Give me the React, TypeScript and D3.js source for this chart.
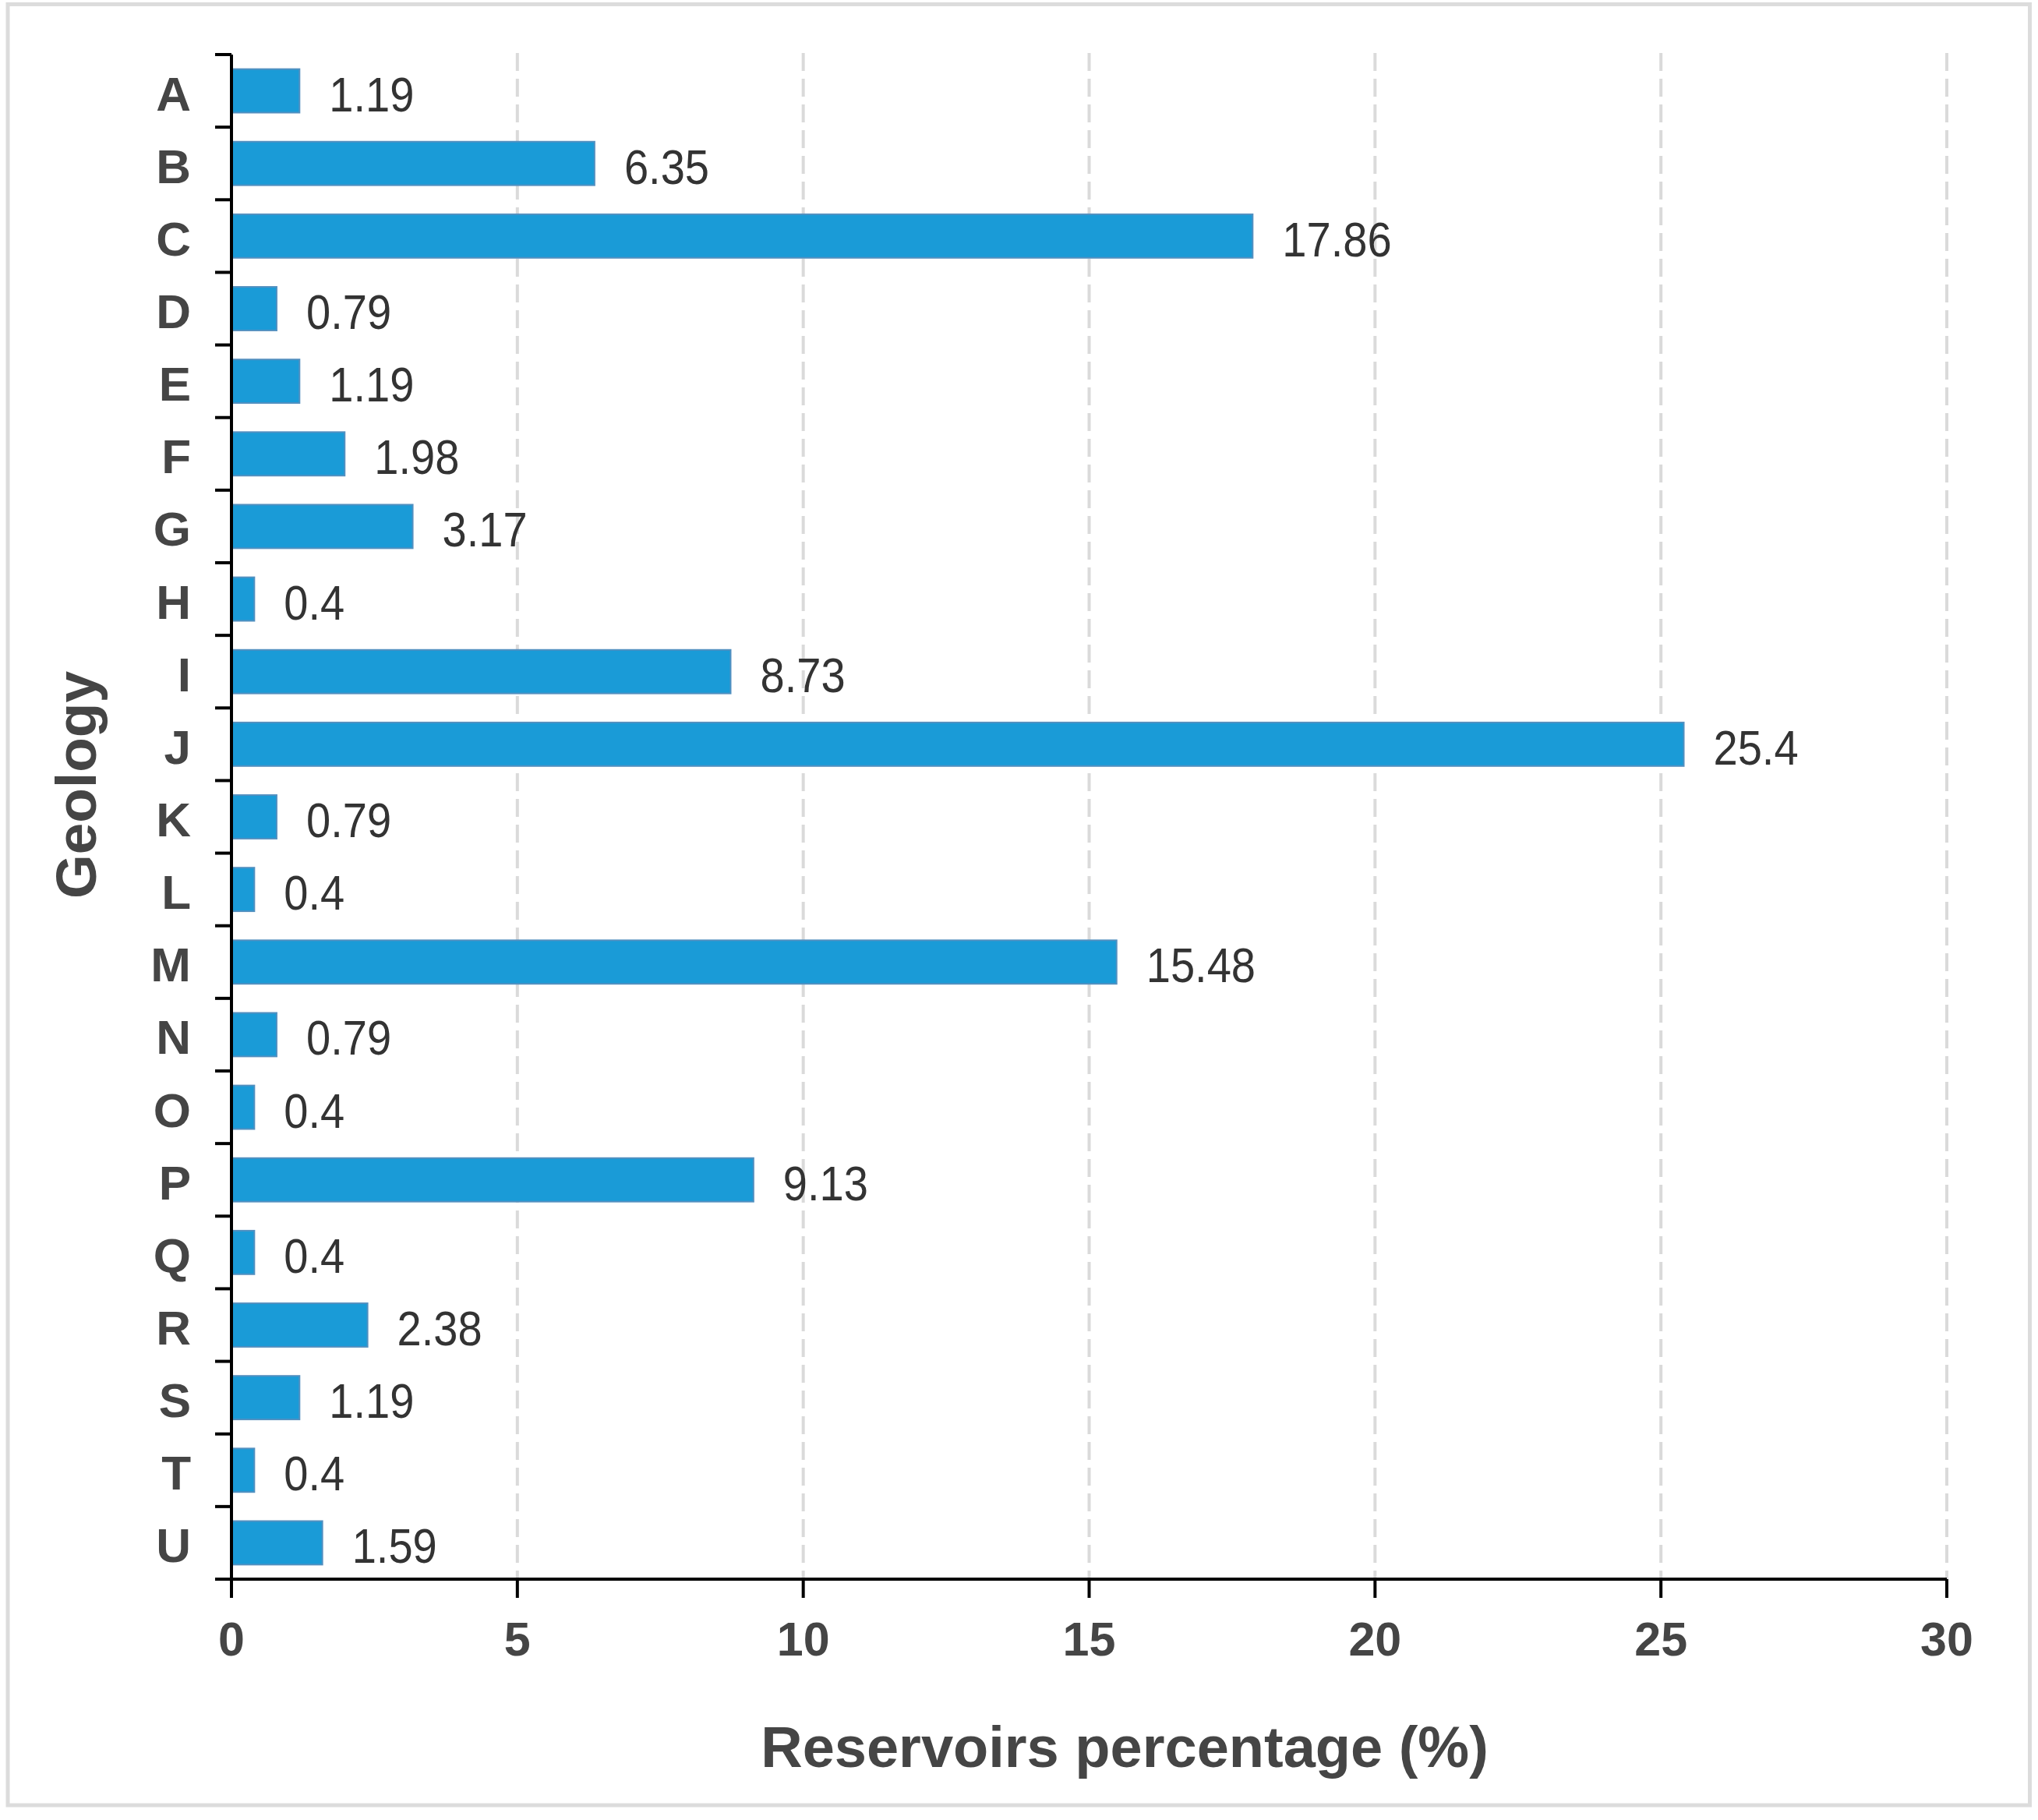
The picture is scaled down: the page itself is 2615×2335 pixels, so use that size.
import React from "react";
import * as d3 from "d3";

const categories = ["A","B","C","D","E","F","G","H","I","J","K","L","M","N","O","P","Q","R","S","T","U"];
const values = [1.19,6.35,17.86,0.79,1.19,1.98,3.17,0.4,8.73,25.4,0.79,0.4,15.48,0.79,0.4,9.13,0.4,2.38,1.19,0.4,1.59];
const xTicks = [0,5,10,15,20,25,30];
const xTitle = "Reservoirs percentage (%)";
const yTitle = "Geology";

const W = 2615;
const H = 2335;
const FONT = "'Liberation Sans', Arial, Helvetica, sans-serif";

export default function App() {
  const x = d3.scaleLinear().domain([0, 30]).range([297, 2498]);
  const y = d3.scaleBand<string>().domain(categories).range([70, 2026]).padding(0);
  const step = y.step();
  const barH = step * 0.6;
  const x0 = x(0);
  const yTop = y.range()[0];
  const yBot = y.range()[1];
  const boundaries = d3.range(categories.length + 1).map((i) => yTop + i * step);

  return (
    <svg
      width={W}
      height={H}
      viewBox={`0 0 ${W} ${H}`}
      style={{ position: "absolute", left: 0, top: 0, background: "#fff" }}
      fontFamily={FONT}
    >
      <rect x={0} y={0} width={W} height={H} fill="#fff" />
      <rect x={10} y={5.5} width={2594.5} height={2310.5} fill="none" stroke="#dcdcdc" strokeWidth={5} />

      {/* grid lines */}
      {xTicks.filter((t) => t > 0).map((t) => (
        <line
          key={"g" + t}
          x1={x(t)}
          x2={x(t)}
          y1={yTop - 2}
          y2={yBot}
          stroke="#dadada"
          strokeWidth={4}
          strokeDasharray="23 10"
        />
      ))}

      {/* bars */}
      {categories.map((c, i) => {
        const cy = (y(c) as number) + step / 2;
        return (
          <rect
            key={"b" + c}
            x={x0 + 1}
            y={cy - barH / 2}
            width={Math.max(0, x(values[i]) - x0 - 1)}
            height={barH}
            fill="#1a9bd7"
            stroke="#5290c0"
            strokeWidth={2}
          />
        );
      })}

      {/* value labels */}
      {categories.map((c, i) => {
        const cy = (y(c) as number) + step / 2;
        return (
          <text
            key={"v" + c}
            transform={`translate(${x(values[i]) + 38},${cy + 26}) scale(0.89,1)`}
            fontSize={63}
            fill="#333"
          >
            {String(values[i])}
          </text>
        );
      })}

      {/* y axis */}
      <line x1={x0} x2={x0} y1={yTop} y2={yBot + 24} stroke="#000" strokeWidth={4} />
      {boundaries.map((b, i) => (
        <line key={"yt" + i} x1={x0 - 21} x2={x0} y1={b} y2={b} stroke="#000" strokeWidth={4} />
      ))}
      {categories.map((c) => (
        <text
          key={"yl" + c}
          x={245}
          y={(y(c) as number) + step / 2 + 25}
          textAnchor="end"
          fontSize={62}
          fontWeight="bold"
          fill="#454545"
        >
          {c}
        </text>
      ))}

      {/* x axis */}
      <line x1={x0 - 21} x2={x(30)} y1={yBot} y2={yBot} stroke="#000" strokeWidth={4} />
      {xTicks.map((t) => (
        <g key={"xt" + t}>
          <line x1={x(t)} x2={x(t)} y1={yBot} y2={yBot + 24} stroke="#000" strokeWidth={4} />
          <text
            x={x(t)}
            y={2124}
            textAnchor="middle"
            fontSize={61}
            fontWeight="bold"
            fill="#454545"
          >
            {t}
          </text>
        </g>
      ))}

      {/* titles */}
      <text x={1443} y={2267} textAnchor="middle" fontSize={74} fontWeight="bold" fill="#454545">
        {xTitle}
      </text>
      <text
        transform={`translate(123,1007) rotate(-90)`}
        textAnchor="middle"
        fontSize={73}
        fontWeight="bold"
        fill="#454545"
      >
        {yTitle}
      </text>
    </svg>
  );
}
